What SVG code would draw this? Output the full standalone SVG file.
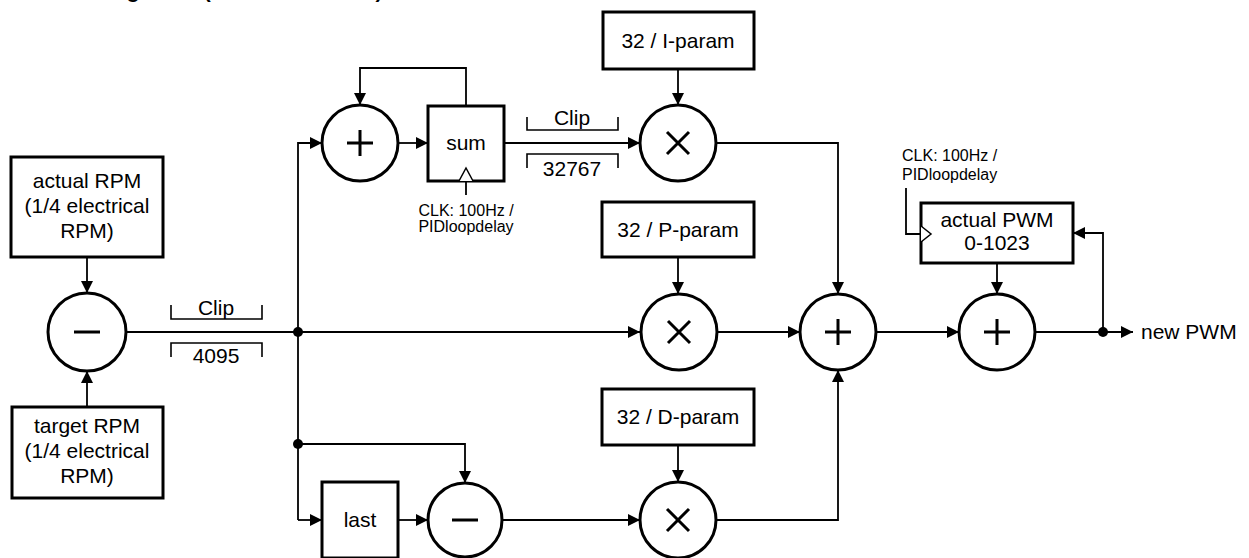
<svg xmlns="http://www.w3.org/2000/svg" width="1249" height="558" viewBox="0 0 1249 558">
<style>
.box{fill:#fff;stroke:#000;stroke-width:3}
.op{fill:#fff;stroke:#000;stroke-width:3}
.sym{stroke:#000;stroke-width:3;fill:none}
.ln{fill:none;stroke:#000;stroke-width:1.8}
.br{fill:none;stroke:#000;stroke-width:1.6}
.t{font-family:"Liberation Sans",Arial,sans-serif;font-size:21px;fill:#000;text-anchor:middle}
.s{font-family:"Liberation Sans",Arial,sans-serif;font-size:16px;fill:#000}
</style>
<defs>
<marker id="ah" markerUnits="userSpaceOnUse" markerWidth="12" markerHeight="12" refX="12" refY="6" orient="auto">
<path d="M0,0 L12,6 L0,12 z" fill="#000"/>
</marker>
</defs>
<rect width="1249" height="558" fill="#fff"/>
<text x="100" y="-2" style="font-family:'Liberation Sans',Arial,sans-serif;font-size:21px;font-weight:bold">Regulator (see source code)</text>

<g id="connectors">
<path class="ln" d="M87,257 V293" marker-end="url(#ah)"/>
<path class="ln" d="M87,407 V371" marker-end="url(#ah)"/>
<path class="ln" d="M126,332 H640" marker-end="url(#ah)"/>
<path class="ln" d="M298,520 V143 H322" marker-end="url(#ah)"/>
<path class="ln" d="M298,520 H322" marker-end="url(#ah)"/>
<path class="ln" d="M466,106 V68 H360 V105" marker-end="url(#ah)"/>
<path class="ln" d="M398,143 H428" marker-end="url(#ah)"/>
<path class="ln" d="M504,143 H640" marker-end="url(#ah)"/>
<path class="ln" d="M678,69 V105" marker-end="url(#ah)"/>
<path class="ln" d="M716,143 H838 V294" marker-end="url(#ah)"/>
<path class="ln" d="M678,257 V294" marker-end="url(#ah)"/>
<path class="ln" d="M717,332 H800" marker-end="url(#ah)"/>
<path class="ln" d="M298,444 H465 V483" marker-end="url(#ah)"/>
<path class="ln" d="M398,520 H428" marker-end="url(#ah)"/>
<path class="ln" d="M502,520 H640" marker-end="url(#ah)"/>
<path class="ln" d="M678,445 V482" marker-end="url(#ah)"/>
<path class="ln" d="M716,520 H838 V370" marker-end="url(#ah)"/>
<path class="ln" d="M876,332 H959" marker-end="url(#ah)"/>
<path class="ln" d="M997,263 V294" marker-end="url(#ah)"/>
<path class="ln" d="M1035,332 H1133" marker-end="url(#ah)"/>
<path class="ln" d="M1103,332 V233 H1073" marker-end="url(#ah)"/>
<path class="ln" d="M466,181 V195"/>
<path class="ln" d="M921,234 H906 V188"/>
<circle cx="298" cy="332" r="5"/>
<circle cx="298" cy="444" r="5"/>
<circle cx="1103" cy="332" r="5"/>
</g>

<g id="clip1">
<path class="br" d="M171,305 V319 H262 V305"/>
<path class="br" d="M171,357 V343 H262 V357"/>
<text class="t" x="216" y="315">Clip</text>
<text class="t" x="216" y="363">4095</text>
</g>
<g id="clip2">
<path class="br" d="M527,117 V130 H618 V117"/>
<path class="br" d="M527,168 V154 H618 V168"/>
<text class="t" x="572" y="125">Clip</text>
<text class="t" x="572" y="176">32767</text>
</g>

<g id="actual-rpm">
<rect class="box" x="11" y="157" width="152" height="100"/>
<text class="t" x="87" y="188">actual RPM</text>
<text class="t" x="87" y="213">(1/4 electrical</text>
<text class="t" x="87" y="238">RPM)</text>
</g>
<g id="target-rpm">
<rect class="box" x="12" y="407" width="151" height="91"/>
<text class="t" x="87" y="433">target RPM</text>
<text class="t" x="87" y="458">(1/4 electrical</text>
<text class="t" x="87" y="483">RPM)</text>
</g>
<g id="sub1">
<circle class="op" cx="87" cy="332" r="39"/>
<path class="sym" d="M74,332 H100"/>
</g>
<g id="add-i">
<circle class="op" cx="360" cy="143" r="38"/>
<path class="sym" d="M347,143 H373 M360,130 V156"/>
</g>
<g id="sum">
<rect class="box" x="428" y="106" width="76" height="75"/>
<text class="t" x="466" y="150">sum</text>
<path d="M459,181 L466,168 L473,181" fill="#fff" stroke="#000" stroke-width="1.5"/>
<text class="s" x="466" y="216" text-anchor="middle">CLK: 100Hz /</text>
<text class="s" x="466" y="232" text-anchor="middle">PIDloopdelay</text>
</g>
<g id="i-param">
<rect class="box" x="603" y="12" width="151" height="57"/>
<text class="t" x="678" y="48">32 / I-param</text>
</g>
<g id="mul-i">
<circle class="op" cx="678" cy="143" r="38"/>
<path class="sym" d="M667,132 L689,154 M689,132 L667,154" stroke-width="2.5"/>
</g>
<g id="p-param">
<rect class="box" x="602" y="202" width="152" height="55"/>
<text class="t" x="678" y="237">32 / P-param</text>
</g>
<g id="mul-p">
<circle class="op" cx="679" cy="332" r="38"/>
<path class="sym" d="M668,321 L690,343 M690,321 L668,343" stroke-width="2.5"/>
</g>
<g id="add-pid">
<circle class="op" cx="838" cy="332" r="38"/>
<path class="sym" d="M825,332 H851 M838,319 V345"/>
</g>
<g id="d-param">
<rect class="box" x="602" y="389" width="152" height="56"/>
<text class="t" x="678" y="424">32 / D-param</text>
</g>
<g id="last">
<rect class="box" x="322" y="482" width="76" height="76"/>
<text class="t" x="360" y="527">last</text>
</g>
<g id="sub2">
<circle class="op" cx="465" cy="520" r="37"/>
<path class="sym" d="M452,520 H478"/>
</g>
<g id="mul-d">
<circle class="op" cx="678" cy="520" r="38"/>
<path class="sym" d="M667,509 L689,531 M689,509 L667,531" stroke-width="2.5"/>
</g>
<g id="actual-pwm">
<rect class="box" x="921" y="203" width="152" height="60"/>
<text class="t" x="997" y="227">actual PWM</text>
<text class="t" x="997" y="250">0-1023</text>
<path d="M921,226 L931,234 L921,242" fill="#fff" stroke="#000" stroke-width="1.5"/>
<text class="s" x="902" y="161">CLK: 100Hz /</text>
<text class="s" x="902" y="180">PIDloopdelay</text>
</g>
<g id="add-out">
<circle class="op" cx="997" cy="332" r="38"/>
<path class="sym" d="M984,332 H1010 M997,319 V345"/>
</g>
<g id="out">
<text class="t" x="1141" y="339" style="text-anchor:start">new PWM</text>
</g>
</svg>
